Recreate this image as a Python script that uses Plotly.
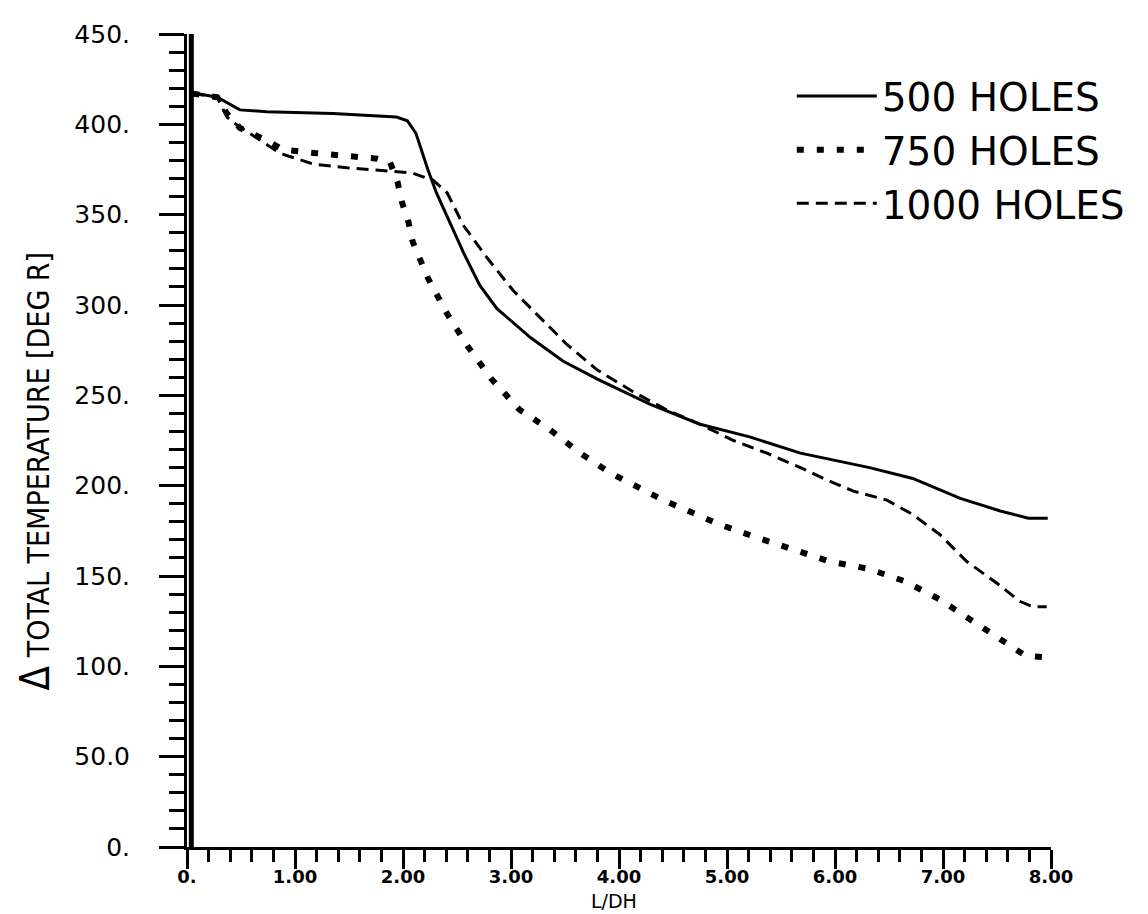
import plotly.graph_objects as go

# ---- data ----
X_500 = [0.05, 0.09, 0.28, 0.49, 0.74, 1.35, 1.94, 2.04, 2.12, 2.23, 2.31, 2.41, 2.56, 2.71,
         2.87, 3.18, 3.48, 3.80, 4.29, 4.75, 5.21, 5.68, 6.32, 6.72, 7.16, 7.53, 7.79, 7.97]
Y_500 = [417, 417, 415, 408, 407, 406, 404, 402, 395, 375, 362, 349, 329, 311,
         298, 282, 269, 259, 245, 234, 227, 218, 210, 204, 193, 186, 182, 182]

X_750 = [0.05, 0.28, 0.37, 0.49, 0.74, 0.89, 1.20, 1.57, 1.76, 1.88, 1.95, 1.99, 2.05, 2.09,
         2.16, 2.23, 2.32, 2.41, 2.60, 2.82, 3.08, 3.36, 3.64, 3.92, 4.41, 4.91, 5.24, 5.58,
         5.95, 6.31, 6.65, 6.97, 7.30, 7.59, 7.76, 7.94]
Y_750 = [417, 415, 406, 398, 391, 386, 384, 382, 381, 379, 368, 357, 346, 335,
         325, 315, 305, 295, 277, 259, 242, 231, 218, 207, 192, 179, 172, 165,
         158, 154, 147, 137, 124, 113, 106, 105]

X_1000 = [0.05, 0.28, 0.37, 0.43, 0.86, 1.17, 1.48, 1.85, 2.09, 2.28, 2.41, 2.56, 2.78, 3.02,
          3.27, 3.52, 3.80, 4.13, 4.44, 4.75, 5.06, 5.37, 5.68, 5.93, 6.17, 6.48, 6.72, 6.97,
          7.22, 7.50, 7.71, 7.83, 7.96]
Y_1000 = [417, 415, 404, 401, 384, 378, 376, 374, 373, 369, 362, 344, 326, 308,
          293, 278, 264, 252, 242, 234, 225, 218, 210, 203, 197, 192, 184, 173,
          158, 146, 136, 133, 133]

INLET_X = [0.04, 0.04]
INLET_Y = [0, 450]

SERIES_NAMES = ["500 HOLES", "750 HOLES", "1000 HOLES"]

X_TICKS = [0, 1, 2, 3, 4, 5, 6, 7, 8]
X_TICK_LABELS = ["0.", "1.00", "2.00", "3.00", "4.00", "5.00", "6.00", "7.00", "8.00"]
Y_TICKS = [0, 50, 100, 150, 200, 250, 300, 350, 400, 450]
Y_TICK_LABELS = ["0.", "50.0", "100.", "150.", "200.", "250.", "300.", "350.", "400.", "450."]

X_TITLE = "L/DH"
Y_TITLE = "<span style='font-size:40px'>Δ</span> TOTAL TEMPERATURE [DEG R]"

COND = "DejaVu Sans Condensed, Liberation Sans Narrow, DejaVu Sans"

fig = go.Figure()

fig.add_trace(go.Scatter(x=INLET_X, y=INLET_Y, mode="lines",
                         line=dict(color="black", width=5), showlegend=False,
                         hoverinfo="skip"))
fig.add_trace(go.Scatter(x=X_500, y=Y_500, mode="lines", name=SERIES_NAMES[0],
                         line=dict(color="black", width=3)))
fig.add_trace(go.Scatter(x=X_750, y=Y_750, mode="lines", name=SERIES_NAMES[1],
                         line=dict(color="black", width=6, dash="7px,13px")))
fig.add_trace(go.Scatter(x=X_1000, y=Y_1000, mode="lines", name=SERIES_NAMES[2],
                         line=dict(color="black", width=3, dash="12px,7px")))

# the page body adds an 8px offset, so the figure is 8px smaller with shifted margins
fig.update_layout(
    width=1140, height=906,
    margin=dict(l=179, r=97, t=14, b=67),
    plot_bgcolor="white", paper_bgcolor="white",
    legend=dict(x=0.70, y=0.963, xanchor="left", yanchor="top",
                font=dict(family="DejaVu Sans", size=39, color="black"),
                itemwidth=80, bgcolor="rgba(0,0,0,0)", tracegroupgap=0),
    xaxis=dict(range=[0, 8], showline=True, linecolor="black", linewidth=3,
               showgrid=False, zeroline=False,
               ticks="outside", ticklen=19, tickwidth=2.5, tickcolor="black",
               tickmode="array", tickvals=X_TICKS, ticktext=X_TICK_LABELS,
               ticklabelstandoff=-8, ticklabeloverflow="allow",
               tickfont=dict(family="DejaVu Sans", size=18, color="black", weight="bold"),
               minor=dict(dtick=0.2, ticklen=12, tickwidth=2.5, tickcolor="black",
                          ticks="outside", showgrid=False)),
    yaxis=dict(range=[0, 450], showline=True, linecolor="black", linewidth=3,
               showgrid=False, zeroline=False,
               ticks="outside", ticklen=25, tickwidth=2.5, tickcolor="black",
               tickmode="array", tickvals=Y_TICKS, ticktext=Y_TICK_LABELS,
               ticklabelstandoff=24, ticklabeloverflow="allow",
               tickfont=dict(family="DejaVu Sans", size=25, color="black"),
               minor=dict(dtick=10, ticklen=15, tickwidth=2.5, tickcolor="black",
                          ticks="outside", showgrid=False)),
    annotations=[
        dict(text=X_TITLE, xref="paper", yref="paper", x=0.494, y=-0.0667,
             xanchor="center", yanchor="middle", showarrow=False,
             font=dict(family="DejaVu Sans", size=19, color="black")),
        dict(text=Y_TITLE, xref="paper", yref="paper", x=-0.176, y=0.463,
             xanchor="center", yanchor="middle", textangle=-90, showarrow=False,
             font=dict(family=COND, size=30, color="black")),
    ],
)

fig.write_html("out.html")
